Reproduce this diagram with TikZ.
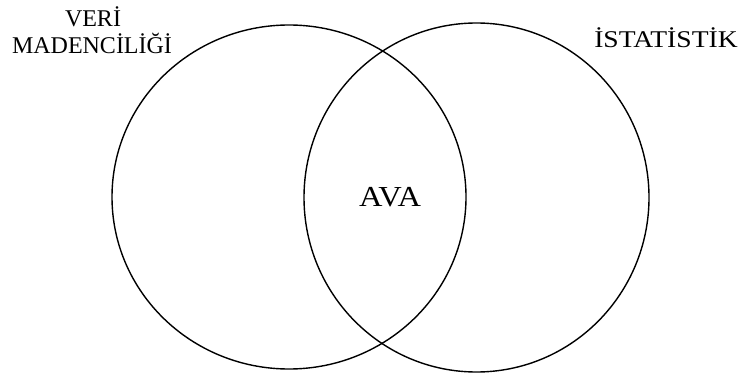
\documentclass[tikz,border=0pt]{standalone}
\usepackage{fontspec}
\setmainfont{Liberation Serif}
\usetikzlibrary{shapes.geometric}
\begin{document}
\begin{tikzpicture}[x=1pt,y=-1pt,
  setring/.style={ellipse,draw,line width=1.4pt,inner sep=0pt},
  lbl/.style={font=\fontsize{24}{28}\selectfont,inner sep=0pt,anchor=base,align=center},
  mid/.style={font=\fontsize{29}{32}\selectfont,inner sep=0pt,anchor=base,xscale=1.12}]
\useasboundingbox (0,0) rectangle (741,374);
\node[setring,minimum width=354pt,minimum height=344pt] (dm) at (289,197) {};
\node[setring,minimum width=345pt,minimum height=349pt] (st) at (476.5,197.5) {};
\node[lbl] (dmlabel) at (93,27) {VERİ};
\node[lbl] (dmlabel2) at (92,54) {MADENCİLİĞİ};
\node[lbl,xscale=1.15] (stlabel) at (666,48) {İSTATİSTİK};
\node[mid] (ava) at (390,207) {AVA};
\end{tikzpicture}
\end{document}
